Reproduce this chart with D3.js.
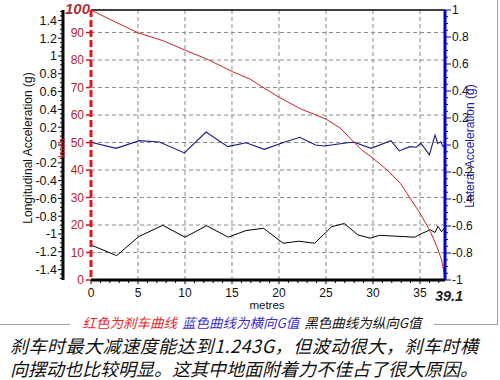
<!DOCTYPE html>
<html>
<head>
<meta charset="utf-8">
<script src="https://cdn.jsdelivr.net/npm/d3@7"></script>
<style>
body{margin:0;background:#fff;}
svg{display:block;}
</style>
</head>
<body>
<svg id="chart"></svg>
<script>
// braking distance (m) and speed (km/h) - red curve
var speedDist=[0,2.55,5.03,7.69,10,12.3,15.1,16.9,19.9,22.2,25,26.5,27.55,28.8,30,31.5,32.9,35,36.1,36.8,37.3,37.66];
var speedVal=[98.2,93.9,89.9,87,83.6,80.4,75.7,73.1,66.7,62.4,58.5,55.3,51.6,47.3,44.3,40,35.2,24.3,17.6,12.1,7.3,0.8];

// lateral G - blue curve
var latDist=[0,2.66,5.15,7.28,9.94,12.24,14.55,16.5,18.44,20.4,22.2,23.9,24.8,27.3,28,29.8,31.9,32.8,33.9,34.6,35.1,36,36.6,36.9,37.2,37.45,37.66];
var latG=[0.02,-0.025,0.032,0.022,-0.059,0.096,-0.012,0.017,-0.032,0.017,0.057,0,-0.007,0.017,0.02,-0.025,0.032,-0.044,-0.012,-0.017,0.012,-0.072,0.074,0.012,0.024,-0.012,0.005];

// longitudinal G - black curve
var lonDist=[0,2.73,5.1,7.63,10,12.3,14.6,16.5,18.35,20.45,22.1,23.8,25.6,26.95,28.4,29.7,30.7,34.45,35,36.1,36.6,36.9,37.3,37.6];
var lonG=[-1.124,-1.243,-1.028,-0.902,-1.036,-0.907,-1.036,-0.961,-0.936,-1.104,-1.081,-1.104,-0.918,-0.882,-1.011,-1.047,-1.015,-1.036,-1.003,-0.953,-0.983,-0.913,-0.974,-0.935];

// tick labels
var xTicks=[0,5,10,15,20,25,30,35];
var speedTicks=[0,10,20,30,40,50,60,70,80,90];
var lonTicks=[-1.4,-1.2,-1,-0.8,-0.6,-0.4,-0.2,0,0.2,0.4,0.6,0.8,1,1.2,1.4];
var latTicks=[-1,-0.8,-0.6,-0.4,-0.2,0,0.2,0.4,0.6,0.8,1];

var legendParts=[
	{text:"红色为刹车曲线",color:"#e8262a"},
	{text:"蓝色曲线为横向G值",color:"#3b2fd0"},
	{text:"黑色曲线为纵向G值",color:"#111"}
];
var captionLines=[
	"刹车时最大减速度能达到1.243G，但波动很大，刹车时横",
	"向摆动也比较明显。这其中地面附着力不佳占了很大原因。"
];

var width=500, height=380;
var plotLeft=91, plotRight=445, plotTop=10, plotBottom=280;
var font="'Liberation Sans', Arial, sans-serif";
var cjk="'Noto Sans CJK SC', sans-serif";

var svg=d3.select("#chart")
	.attr("width",width)
	.attr("height",height);

//scales
var x=d3.scaleLinear().domain([0,37.66]).range([plotLeft,plotRight]);
var ySpeed=d3.scaleLinear().domain([0,98.2]).range([plotBottom,plotTop]);
var yLon=d3.scaleLinear().domain([-1.517,1.517]).range([plotBottom,plotTop]);
var yLat=d3.scaleLinear().domain([-1,1]).range([plotBottom,plotTop]);

//outer frame
svg.append("path")
	.attr("d","M0,324.5H497.5V0")
	.style("fill","none")
	.style("stroke","#a0a0a0")
	.style("stroke-width",1);

//grid
svg.selectAll("line.vgrid")
	.data(xTicks.filter(function(d){return d>0;}))
	.enter()
	.append("line")
	.attr("x1",function(d){return x(d);})
	.attr("x2",function(d){return x(d);})
	.attr("y1",plotTop)
	.attr("y2",plotBottom)
	.style("stroke","#8a8a8a")
	.style("stroke-dasharray","4,3");

svg.selectAll("line.hgrid")
	.data(speedTicks.filter(function(d){return d>0;}))
	.enter()
	.append("line")
	.attr("x1",plotLeft)
	.attr("x2",plotRight)
	.attr("y1",function(d){return ySpeed(d);})
	.attr("y2",function(d){return ySpeed(d);})
	.style("stroke","#8a8a8a")
	.style("stroke-dasharray","4,3");

//top border
svg.append("line")
	.attr("x1",plotLeft).attr("x2",plotRight)
	.attr("y1",plotTop).attr("y2",plotTop)
	.style("stroke","#000")
	.style("stroke-width",1.5);

//curves
var lineGen=function(xs,ys,yScale){
	return d3.line()
		.x(function(d,i){return x(xs[i]);})
		.y(function(d,i){return yScale(ys[i]);})(xs);
};

svg.append("path")
	.attr("d",lineGen(lonDist,lonG,yLon))
	.style("fill","none")
	.style("stroke","#000")
	.style("stroke-width",1);

svg.append("path")
	.attr("d",lineGen(latDist,latG,yLat))
	.style("fill","none")
	.style("stroke","#1a1a80")
	.style("stroke-width",1.1);

svg.append("path")
	.attr("d",lineGen(speedDist,speedVal,ySpeed))
	.style("fill","none")
	.style("stroke","#cc2228")
	.style("stroke-width",1);

//x axis
var xAxis=svg.append("g").attr("transform","translate(0,"+plotBottom+")");
xAxis.selectAll("line.minor")
	.data(d3.range(0,38,1))
	.enter()
	.append("line")
	.attr("x1",function(d){return x(d);})
	.attr("x2",function(d){return x(d);})
	.attr("y1",0)
	.attr("y2",function(d){return d%5==0?4:3;})
	.style("stroke","#000");
xAxis.append("line")
	.attr("x1",plotLeft).attr("x2",plotRight)
	.style("stroke","#000")
	.style("stroke-width",3);
xAxis.selectAll("text")
	.data(xTicks)
	.enter()
	.append("text")
	.attr("x",function(d){return x(d);})
	.attr("y",16.5)
	.attr("text-anchor","middle")
	.style("font","12px "+font)
	.style("fill","#111")
	.text(function(d){return d;});

svg.append("text")
	.attr("x",449)
	.attr("y",300.5)
	.attr("text-anchor","middle")
	.style("font","italic bold 14.5px "+font)
	.style("fill","#222")
	.text("39.1");

svg.append("text")
	.attr("x",267)
	.attr("y",309)
	.attr("text-anchor","middle")
	.style("font","11.5px "+font)
	.style("fill","#111")
	.text("metres");

//left longitudinal axis
var lonX=63;
var lonAxis=svg.append("g");
lonAxis.selectAll("line.minor")
	.data(d3.range(-30,31,1))
	.enter()
	.append("line")
	.attr("x1",function(d){return d%4==0?lonX-5:lonX-3;})
	.attr("x2",lonX)
	.attr("y1",function(d){return yLon(d*0.05);})
	.attr("y2",function(d){return yLon(d*0.05);})
	.style("stroke","#000");
lonAxis.append("line")
	.attr("x1",lonX).attr("x2",lonX)
	.attr("y1",plotTop).attr("y2",plotBottom)
	.style("stroke","#000")
	.style("stroke-width",3);
lonAxis.selectAll("text")
	.data(lonTicks)
	.enter()
	.append("text")
	.attr("x",lonX-6)
	.attr("y",function(d){return yLon(d);})
	.attr("dy",".35em")
	.attr("text-anchor","end")
	.style("font","12.5px "+font)
	.style("fill","#111")
	.text(function(d){return d;});
svg.append("text")
	.attr("transform","translate(32,148) rotate(-90)")
	.attr("text-anchor","middle")
	.style("font","12px "+font)
	.style("fill","#111")
	.text("Longitudinal Acceleration (g)");

//red speed title sitting over the black axis
svg.append("text")
	.attr("transform","translate(65,148) rotate(-90)")
	.attr("text-anchor","middle")
	.style("font","9px "+font)
	.style("fill","#d02020")
	.text("km/h");

//red speed axis
var speedAxis=svg.append("g");
speedAxis.selectAll("line.tick")
	.data(speedTicks)
	.enter()
	.append("line")
	.attr("x1",plotLeft-5).attr("x2",plotLeft)
	.attr("y1",function(d){return ySpeed(d);})
	.attr("y2",function(d){return ySpeed(d);})
	.style("stroke","#c02028")
	.style("stroke-width",1.5);
speedAxis.append("line")
	.attr("x1",plotLeft).attr("x2",plotLeft)
	.attr("y1",plotTop).attr("y2",plotBottom)
	.style("stroke","#e8141c")
	.style("stroke-width",3)
	.style("stroke-dasharray","7,3");
speedAxis.selectAll("text")
	.data(speedTicks)
	.enter()
	.append("text")
	.attr("x",plotLeft-7)
	.attr("y",function(d){return ySpeed(d);})
	.attr("dy",".35em")
	.attr("text-anchor","end")
	.style("font","12px "+font)
	.style("fill","#b8202a")
	.text(function(d){return d;});
svg.append("text")
	.attr("x",90)
	.attr("y",14)
	.attr("text-anchor","end")
	.style("font","italic bold 15px "+font)
	.style("fill","#b03038")
	.text("100");

//right lateral axis
var latAxis=svg.append("g");
latAxis.selectAll("line.minor")
	.data(d3.range(-20,21,1))
	.enter()
	.append("line")
	.attr("x1",plotRight)
	.attr("x2",function(d){return d%4==0?plotRight+6:plotRight+3;})
	.attr("y1",function(d){return yLat(d*0.05);})
	.attr("y2",function(d){return yLat(d*0.05);})
	.style("stroke","#0000c0");
latAxis.append("line")
	.attr("x1",plotRight).attr("x2",plotRight)
	.attr("y1",plotTop).attr("y2",plotBottom)
	.style("stroke","#0000d0")
	.style("stroke-width",3);
latAxis.selectAll("text")
	.data(latTicks)
	.enter()
	.append("text")
	.attr("x",plotRight+7)
	.attr("y",function(d){return yLat(d);})
	.attr("dy",".35em")
	.attr("text-anchor","start")
	.style("font","12px "+font)
	.style("fill","#111")
	.text(function(d){return d;});
svg.append("text")
	.attr("transform","translate(474,146) rotate(-90)")
	.attr("text-anchor","middle")
	.style("font","12px "+font)
	.style("fill","#1a1aa0")
	.text("Lateral Acceleration (g)");

//legend text over the frame line
svg.append("rect")
	.attr("x",70).attr("y",315)
	.attr("width",364).attr("height",17)
	.style("fill","#fff");
var legendItems=svg.selectAll("text.legend")
	.data(legendParts)
	.enter()
	.append("text")
	.attr("class","legend")
	.attr("y",327.5)
	.style("font","italic 13.5px "+cjk)
	.style("fill",function(d){return d.color;})
	.text(function(d){return d.text;});
//place them one after another, centred as a group
var gap=5, widths=[];
legendItems.each(function(){widths.push(this.getComputedTextLength());});
var total=d3.sum(widths)+gap*(widths.length-1);
var cursor=252-total/2;
legendItems.attr("x",function(d,i){
	var pos=cursor;
	cursor+=widths[i]+gap;
	return pos;
});

//caption
svg.selectAll("text.caption")
	.data(captionLines)
	.enter()
	.append("text")
	.attr("class","caption")
	.attr("x",10)
	.attr("y",function(d,i){return 352.5+i*23.5;})
	.style("font","italic 18px "+cjk)
	.style("fill","#111")
	.attr("textLength",468)
	.attr("lengthAdjust","spacing")
	.text(function(d){return d;});
</script>
</body>
</html>
